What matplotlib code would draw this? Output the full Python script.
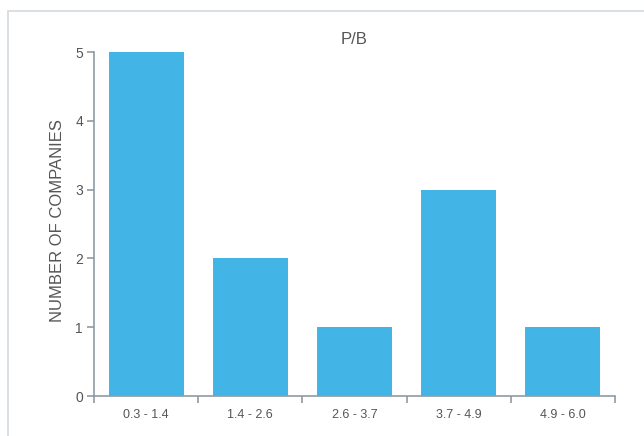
import matplotlib
matplotlib.use("Agg")
import matplotlib.pyplot as plt
from matplotlib.patches import Rectangle
import numpy as np

categories = ["0.3 - 1.4", "1.4 - 2.6", "2.6 - 3.7", "3.7 - 4.9", "4.9 - 6.0"]
counts = [5, 2, 1, 3, 1]
y_ticks = [0, 1, 2, 3, 4, 5]

bar_color = "#42b4e6"
axis_color = "#8d9ba6"
text_color = "#555555"

plt.rcParams["font.family"] = ["Liberation Sans", "DejaVu Sans"]

fig = plt.figure(figsize=(6.44, 4.36), dpi=100)
ax = fig.add_axes([94 / 644, 1 - 396 / 436, (615 - 94) / 644, (396 - 52) / 436])

x = np.arange(len(categories))
ax.bar(x, counts, width=0.72, color=bar_color, zorder=2)

ax.set_xlim(-0.5, len(categories) - 0.5)
ax.set_ylim(0, 5)

for s in ["top", "right"]:
    ax.spines[s].set_visible(False)
for s in ["left", "bottom"]:
    ax.spines[s].set_color(axis_color)
    ax.spines[s].set_linewidth(1.2)

ax.set_xticks(x)
ax.set_xticklabels(categories)
ax.set_xticks(np.arange(len(categories) + 1) - 0.5, minor=True)
ax.tick_params(axis="x", which="major", length=0, pad=9, labelsize=9, labelcolor=text_color)
ax.tick_params(axis="x", which="minor", length=5, width=1.2, color=axis_color)

ax.set_yticks(y_ticks)
ax.tick_params(axis="y", length=5, width=1.2, color=axis_color, labelsize=10,
               labelcolor=text_color, pad=3)

ax.set_ylabel("NUMBER OF COMPANIES", fontsize=12, color=text_color,
              va="center")
ax.yaxis.set_label_coords(-0.071, 0.51)
ax.set_title("P/B", fontsize=12, color=text_color, pad=6)

# outer panel border (top and left edges visible)
fig.add_artist(Rectangle((8 / 644, -0.1), 1.1, 1.1 - 11 / 436,
                         transform=fig.transFigure, fill=False,
                         edgecolor="#d3d9de", linewidth=1.2))

fig.savefig("out.png", dpi=100)
